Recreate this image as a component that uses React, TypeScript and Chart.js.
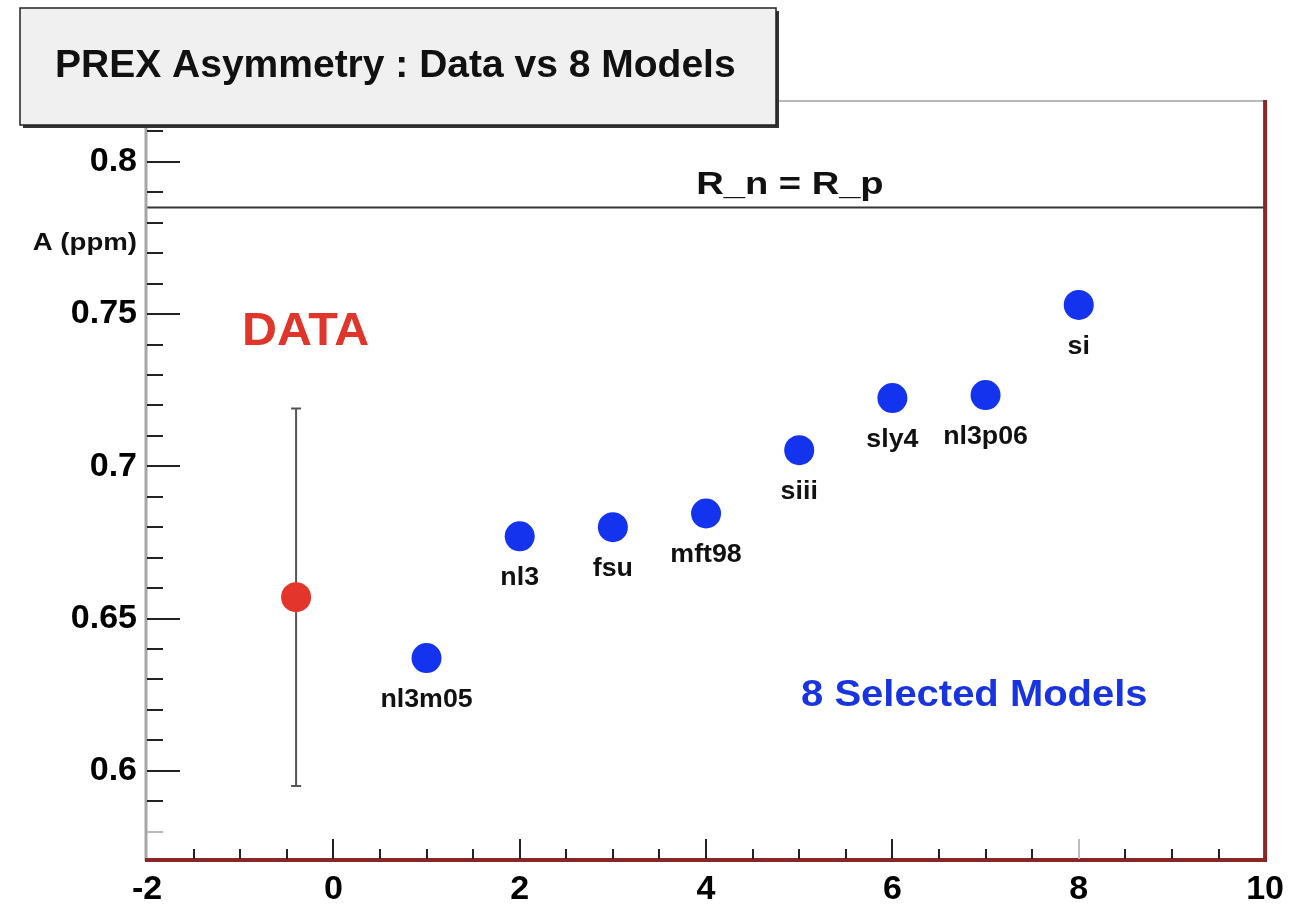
import React, { useEffect, useRef } from "react";
import { Chart, registerables } from "chart.js";

Chart.register(...registerables);

// Axis ticks
const xTickValues = [-2, 0, 2, 4, 6, 8, 10];
const yTickValues = [0.6, 0.65, 0.7, 0.75, 0.8];

// Eight model predictions of the parity-violating asymmetry (ppm)
const modelNames = ["nl3m05", "nl3", "fsu", "mft98", "siii", "sly4", "nl3p06", "si"];
const modelX = [1, 2, 3, 4, 5, 6, 7, 8];
const modelA = [0.637, 0.677, 0.68, 0.6845, 0.7053, 0.7224, 0.7234, 0.753];

// Measured asymmetry with its total error
const dataX = [-0.4];
const dataA = [0.657];
const dataErr = [0.062];

// Asymmetry expected if neutron radius equals proton radius
const equalRadiiA = 0.785;

const FONT = '"Liberation Sans", Arial, Helvetica, sans-serif';

function drawText(
  ctx: CanvasRenderingContext2D,
  text: string,
  x: number,
  y: number,
  size: number,
  color: string,
  align: CanvasTextAlign,
  sx = 1
) {
  ctx.save();
  ctx.translate(x, y);
  ctx.scale(sx, 1);
  ctx.font = `bold ${size}px ${FONT}`;
  ctx.fillStyle = color;
  ctx.textAlign = align;
  ctx.textBaseline = "alphabetic";
  ctx.fillText(text, 0, 0);
  ctx.restore();
}

const errorBarPlugin = {
  id: "errorBar",
  beforeDatasetsDraw(chart: any) {
    const { ctx, scales } = chart;
    const xs = scales.x;
    const ys = scales.y;
    ctx.save();
    ctx.strokeStyle = "#555";
    ctx.lineWidth = 2;
    dataX.forEach((x, i) => {
      const px = xs.getPixelForValue(x);
      const top = ys.getPixelForValue(dataA[i] + dataErr[i]);
      const bot = ys.getPixelForValue(dataA[i] - dataErr[i]);
      ctx.beginPath();
      ctx.moveTo(px, top);
      ctx.lineTo(px, bot);
      ctx.moveTo(px - 5, top);
      ctx.lineTo(px + 5, top);
      ctx.moveTo(px - 5, bot);
      ctx.lineTo(px + 5, bot);
      ctx.stroke();
    });
    ctx.restore();
  },
};

const framePlugin = {
  id: "frameAndText",
  afterDraw(chart: any) {
    const { ctx, chartArea, scales } = chart;
    const { left, right, top, bottom } = chartArea;
    const xs = scales.x;
    const ys = scales.y;
    ctx.save();

    // frame: grey top and left, dark red bottom and right
    ctx.strokeStyle = "#b8b8b8";
    ctx.lineWidth = 2;
    ctx.beginPath();
    ctx.moveTo(left, top);
    ctx.lineTo(right, top);
    ctx.stroke();

    ctx.strokeStyle = "#a6a6a6";
    ctx.lineWidth = 3;
    ctx.beginPath();
    ctx.moveTo(left - 1, top);
    ctx.lineTo(left - 1, bottom + 2);
    ctx.stroke();

    ctx.strokeStyle = "#8a2626";
    ctx.lineWidth = 4;
    ctx.beginPath();
    ctx.moveTo(left - 2, bottom + 1);
    ctx.lineTo(right, bottom + 1);
    ctx.lineTo(right, top - 1);
    ctx.stroke();

    // inward ticks on the y axis
    ctx.lineWidth = 2;
    for (let k = 58; k <= 81; k++) {
      const v = k / 100;
      const major = k % 5 === 0;
      const py = Math.round(ys.getPixelForValue(v));
      ctx.strokeStyle = k === 58 ? "#bbb" : "#222";
      ctx.beginPath();
      ctx.moveTo(left, py);
      ctx.lineTo(left + (major ? 33 : 16), py);
      ctx.stroke();
    }

    // inward ticks on the x axis
    for (let k = -3; k <= 19; k++) {
      const v = k / 2;
      const major = k % 4 === 0;
      const px = Math.round(xs.getPixelForValue(v));
      ctx.strokeStyle = v === 8 ? "#bbb" : "#222";
      ctx.beginPath();
      ctx.moveTo(px, bottom);
      ctx.lineTo(px, bottom - (major ? 20 : 10));
      ctx.stroke();
    }

    // annotations
    drawText(ctx, "A (ppm)", left - 10, 250, 24, "#111", "right", 1.15);
    drawText(ctx, "R_n = R_p", xs.getPixelForValue(4.9), ys.getPixelForValue(equalRadiiA) - 14, 31, "#111", "center", 1.23);
    drawText(ctx, "DATA", xs.getPixelForValue(-0.98), 345, 47, "#e0352b", "left", 1.03);
    drawText(ctx, "8 Selected Models", xs.getPixelForValue(5.02), 706, 36, "#1833e0", "left", 1.11);

    modelNames.forEach((name, i) => {
      const px = xs.getPixelForValue(modelX[i]);
      const py = ys.getPixelForValue(modelA[i]);
      drawText(ctx, name, px, py + 49, 26, "#111", "center", 1.03);
    });

    // title box with shadow
    const bx = 20, by = 8, bw = 756, bh = 117;
    ctx.fillStyle = "#333";
    ctx.fillRect(bx + 3, by + 3, bw, bh);
    ctx.fillStyle = "#f0f0f0";
    ctx.fillRect(bx, by, bw, bh);
    ctx.strokeStyle = "#222";
    ctx.lineWidth = 1.5;
    ctx.strokeRect(bx, by, bw, bh);
    drawText(ctx, "PREX Asymmetry : Data vs 8 Models", 55, 77, 39, "#111", "left", 1.0);

    ctx.restore();
  },
};

export default function App() {
  const canvasRef = useRef<HTMLCanvasElement | null>(null);

  useEffect(() => {
    const canvas = canvasRef.current;
    if (!canvas) return;
    const tickFont = { family: FONT, size: 34, weight: "bold" as const };
    const chart = new Chart(canvas, {
      type: "scatter",
      data: {
        datasets: [
          {
            type: "line",
            label: "R_n = R_p",
            data: [
              { x: -2, y: equalRadiiA },
              { x: 10, y: equalRadiiA },
            ],
            borderColor: "#333",
            borderWidth: 2,
            pointRadius: 0,
          } as any,
          {
            label: "models",
            data: modelX.map((x, i) => ({ x, y: modelA[i] })),
            pointRadius: 15,
            backgroundColor: "#1433ee",
            borderWidth: 0,
          },
          {
            label: "data",
            data: dataX.map((x, i) => ({ x, y: dataA[i] })),
            pointRadius: 15,
            backgroundColor: "#e3352b",
            borderWidth: 0,
          },
        ],
      },
      options: {
        animation: false,
        responsive: false,
        events: [],
        layout: { padding: { top: 101, right: 27, left: 0, bottom: 0 } },
        plugins: { legend: { display: false }, tooltip: { enabled: false } },
        scales: {
          x: {
            type: "linear",
            min: -2,
            max: 10,
            grid: { display: false, drawTicks: false },
            border: { display: false },
            afterBuildTicks: (s: any) => {
              s.ticks = xTickValues.map((v) => ({ value: v }));
            },
            afterFit: (s: any) => {
              s.height = 60;
            },
            ticks: {
              font: tickFont,
              color: "#000",
              padding: 10,
              maxRotation: 0,
              autoSkip: false,
              callback: (v: any) => String(v),
            },
          },
          y: {
            type: "linear",
            min: 0.571,
            max: 0.82,
            grid: { display: false, drawTicks: false },
            border: { display: false },
            afterBuildTicks: (s: any) => {
              s.ticks = yTickValues.map((v) => ({ value: v }));
            },
            afterFit: (s: any) => {
              s.width = 147;
            },
            ticks: {
              font: tickFont,
              color: "#000",
              padding: 10,
              autoSkip: false,
              callback: (v: any) => String(Math.round(Number(v) * 100) / 100),
            },
          },
        },
      },
      plugins: [errorBarPlugin, framePlugin],
    });
    return () => chart.destroy();
  }, []);

  return (
    <div style={{ position: "absolute", left: 0, top: 0, width: 1294, height: 919, background: "#fff" }}>
      <canvas ref={canvasRef} width={1294} height={919} style={{ width: 1294, height: 919, display: "block" }} />
    </div>
  );
}
